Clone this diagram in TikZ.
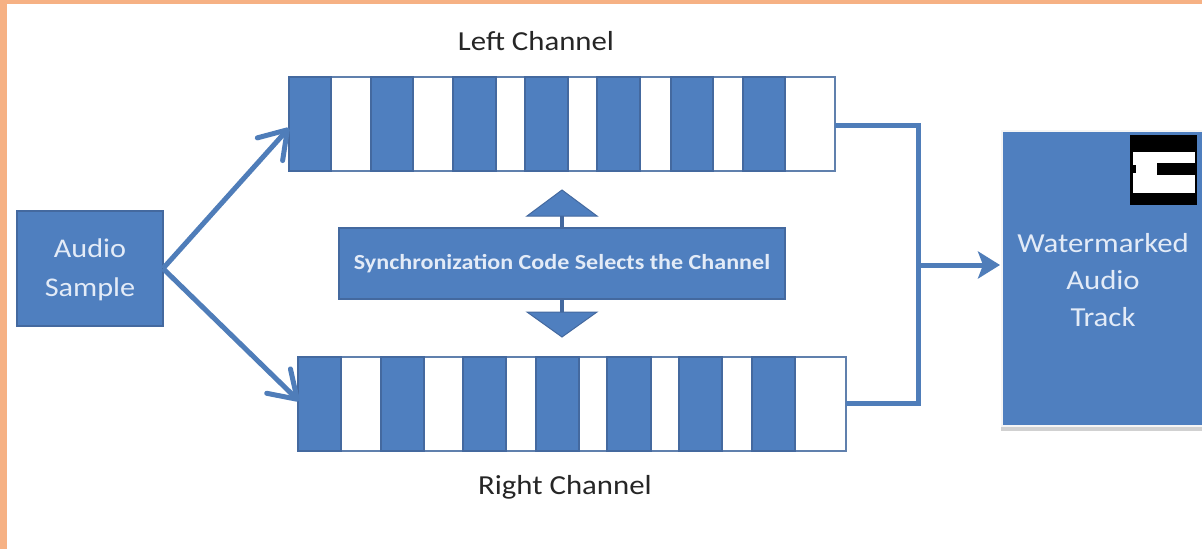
\documentclass[tikz,border=0pt]{standalone}
\usepackage{fontspec}
\setmainfont{Carlito}
\newfontfamily\widefont[FakeStretch=1.12]{Carlito}
\newfontfamily\widebold[FakeStretch=1.12,UprightFont=*-Bold]{Carlito}
\usetikzlibrary{arrows.meta}
\definecolor{cblue}{HTML}{4F7FBF}
\definecolor{cedge}{HTML}{44699F}
\definecolor{corange}{HTML}{F6B184}
\definecolor{cline}{HTML}{4F7DB9}
\definecolor{ctext}{HTML}{E3EBF7}
\tikzset{
  x=1pt,y=-1pt,
  seg/.style={draw=cedge,line width=1.4pt,fill=cblue,inner sep=0pt,outer sep=0pt},
  strip/.style={draw=cedge!85,line width=1.4pt,fill=white,inner sep=0pt,outer sep=0pt,minimum height=94pt,minimum width=546pt},
  bluebox/.style={draw=cedge,line width=1.2pt,fill=cblue,text=ctext,inner sep=0pt,outer sep=0pt,align=center},
  conn/.style={draw=cline,line width=5pt},
  arr/.style={conn,-{Straight Barb[round,length=26pt,width=34pt,line width=5pt]}},
  solidarr/.style={conn,-{Stealth[length=22pt,width=27pt,inset=5pt]}},
  caption/.style={text=black!85,font=\widefont\fontsize{27.5}{32}\selectfont,inner sep=0pt},
}
\newcommand{\segbar}[4]{\node[seg,minimum width=#3pt-#2pt,minimum height=94pt,anchor=north west] (#1) at (#2,#4) {};}
\begin{document}
\begin{tikzpicture}
\useasboundingbox (0,0) rectangle (1202,549);
\fill[white] (0,0) rectangle (1202,549);
\fill[corange] (0,0) rectangle (1202,4);
\fill[corange] (0,0) rectangle (7,549);
% strips
\node[strip,anchor=north west] (leftch) at (289,77) {};
\node[strip,anchor=north west,minimum width=548pt] (rightch) at (298,357) {};
\foreach \n/\a/\b in {a/289/331,b/371/413,c/453/496,d/525/568,e/597/640,f/671/713,g/743/785}{\segbar{l\n}{\a}{\b}{77}}
\foreach \n/\a/\b in {a/298/341,b/381/424,c/463/506,d/536/579,e/607/651,f/679/722,g/752/795}{\segbar{r\n}{\a}{\b}{357}}
% boxes
\node[bluebox,minimum width=146pt,minimum height=115pt,anchor=north west] (audio) at (17,211) {};
\node[text=ctext,align=center,inner sep=0pt,font=\widefont\fontsize{27}{39}\selectfont] (audiotext) at (90,270) {Audio\\Sample};
\node[bluebox,minimum width=446pt,minimum height=71pt,anchor=north west,font=\widebold\fontsize{21.5}{24}\selectfont] (sync) at (339,228) {Synchronization Code Selects the Channel};
\fill[black!18] (1001,140) rectangle (1202,431);
\node[bluebox,draw=white!96!black,line width=2pt,minimum width=202pt,minimum height=295pt,anchor=north west] (wm) at (1002,131) {};
\node[text=ctext,align=center,inner sep=0pt,font=\widefont\fontsize{27.5}{37}\selectfont] (wmtext) at (1103,280) {Watermarked\\Audio\\Track};
% black badge
\node[fill=black,minimum width=67pt,minimum height=70pt,inner sep=0pt,anchor=north west] (badge) at (1130,135) {};
\node[fill=white,minimum width=62pt,minimum height=41pt,inner sep=0pt,anchor=north west] (badgew) at (1133,152) {};
\node[fill=black,minimum width=38pt,minimum height=12pt,inner sep=0pt,anchor=north west] (badgeb) at (1157,163) {};
\node[fill=black,minimum width=2.5pt,minimum height=8pt,inner sep=0pt,anchor=north west] (badgen) at (1133,165) {};
% labels
\node[caption] (ltitle) at (536,41) {Left Channel};
\node[caption] (rtitle) at (565,487) {Right Channel};
% up/down arrows
\coordinate (uptip) at (562,190);
\coordinate (upbase) at (562,216);
\coordinate (dntip) at (562,337);
\coordinate (dnbase) at (562,312);
\draw[cedge,line width=4.5pt] (upbase) -- (sync.north -| upbase);
\draw[cedge,line width=4.5pt] (dnbase) -- (sync.south -| dnbase);
\fill[cblue,draw=cedge,line width=1pt] (uptip) -- (597,216) -- (527,216) -- cycle;
\fill[cblue,draw=cedge,line width=1pt] (dntip) -- (597,312) -- (527,312) -- cycle;
% connectors
\coordinate (ltip) at (289,128);
\coordinate (rtip) at (299,401);
\coordinate (lout) at (835,125);
\coordinate (rout) at (846,403);
\coordinate (jl) at (918,125);
\coordinate (jr) at (918,403);
\coordinate (jm) at (918,265);
\coordinate (wmin) at (1000,265);
\draw[arr] (audio.east) -- (ltip);
\draw[arr] (audio.east) -- (rtip);
\draw[conn,line join=miter] (lout) -- (jl) -- (jr) -- (rout);
\draw[solidarr] (jm) -- (wmin);
\end{tikzpicture}
\end{document}
